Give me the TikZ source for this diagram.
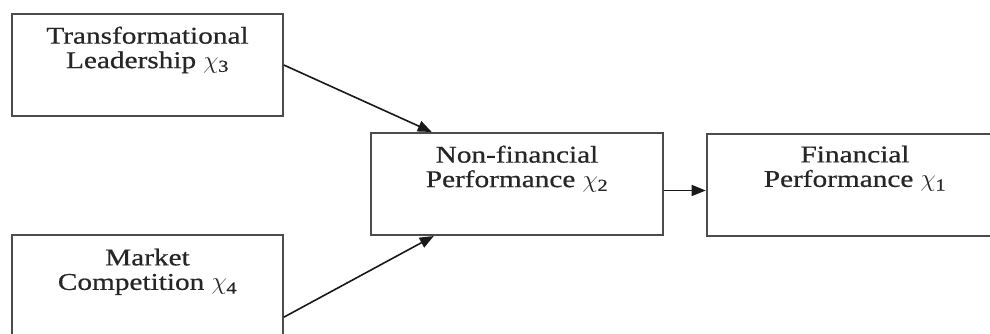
\documentclass[tikz,border=0pt]{standalone}
\usepackage{fontspec}
\setmainfont{Liberation Serif}[FakeStretch=1.22,FakeBold=0.6]
\usetikzlibrary{arrows.meta,calc}
\newcommand{\chisub}[1]{\(\chi\)\kern-0.5pt\textsubscript{#1}}
\tikzset{
  boxnode/.style={draw=black!70, line width=1.6pt, rectangle, inner sep=0pt},
  lbl/.style={anchor=north, align=center, inner sep=0pt, text=black!85,
    font=\fontsize{24pt}{24.5pt}\selectfont},
  conn/.style={draw=black!90, line width=1.6pt, -{Triangle[length=14pt,width=11pt]}, shorten >=0.5pt}
}
\begin{document}
\begin{tikzpicture}[x=1pt,y=-1pt]
\useasboundingbox (0,0) rectangle (990,334);
\clip (0,0) rectangle (990,334);
\fill[white] (0,0) rectangle (990,334);
% boxes
\node[boxnode, minimum width=271pt, minimum height=102pt] (b1) at (147.5,65) {};
\node[boxnode, minimum width=271pt, minimum height=102pt] (b2) at (147.5,286) {};
\node[boxnode, minimum width=292pt, minimum height=102pt] (b3) at (517,184) {};
\node[boxnode, minimum width=296pt, minimum height=102pt] (b4) at (855,185) {};
% labels
\node[lbl] (t1) at (147.5,26.5) {Transformational\\Leadership \chisub{3}};
\node[lbl] (t2) at (147.5,248.5) {Market\\Competition \chisub{4}};
\node[lbl] (t3) at (517,145.5) {Non-financial\\Performance \chisub{2}};
\node[lbl] (t4) at (855,145.5) {Financial\\Performance \chisub{1}};
% connectors
\draw[conn] (b1.east) -- ($(b3.north west)+(62,0)$);
\draw[conn] ($(b2.north east)+(0,83)$) -- ($(b3.south west)+(64,0)$);
\draw[conn] ($(b3.east)+(0,6.5)$) -- ($(b4.west)+(0,5.5)$);
\end{tikzpicture}
\end{document}
